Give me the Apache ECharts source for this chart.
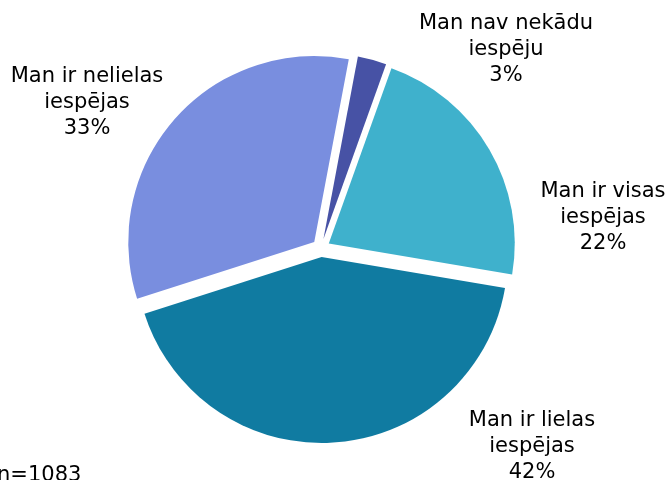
<!DOCTYPE html>
<html>
<head>
<meta charset="utf-8">
<script src="https://cdn.jsdelivr.net/npm/echarts@6/dist/echarts.min.js"></script>
<style>
  html, body { margin: 0; padding: 0; background: #fff; }
  #chart { width: 668px; height: 480px; }
</style>
</head>
<body>
<div id="chart"></div>
<script>
// slices, clockwise from the top
const categories = [
  'Man nav nekādu\niespēju',
  'Man ir visas\niespējas',
  'Man ir lielas\niespējas',
  'Man ir nelielas\niespējas',
];
const values = [2.5, 22.2, 42.4, 32.9];
const colors = ['#4752a5', '#3fb1cc', '#107ba1', '#798edf'];
const sampleNote = 'n=1083';

// where each label block is centred
const labelSpots = [[506, 50], [603, 218], [532, 447], [87, 103]];

const chart = echarts.init(document.getElementById('chart'));

const pieBase = {
  type: 'pie',
  center: [321, 248],
  radius: 186,
  startAngle: 79.3,
  clockwise: true,
  avoidLabelOverlap: false,
  emphasis: { disabled: true },
  labelLine: { show: false },
};

const option = {
  animation: false,
  graphic: [{
    type: 'text',
    left: -3,
    top: 465,
    style: {
      text: sampleNote,
      font: '21px "DejaVu Sans"',
      fill: '#000',
    },
  }],
  series: [
    {
      // exploded slices (selected state gives the offset)
      ...pieBase,
      selectedMode: 'multiple',
      selectedOffset: 9,
      label: { show: false },
      data: categories.map((name, i) => ({
        name,
        value: values[i],
        selected: true,
        itemStyle: { color: colors[i] },
      })),
    },
    {
      // invisible copy that only carries the labels
      ...pieBase,
      silent: true,
      selectedMode: false,
      itemStyle: { color: 'rgba(0,0,0,0)' },
      label: {
        show: true,
        position: 'outside',
        fontFamily: 'DejaVu Sans',
        fontSize: 21,
        lineHeight: 26,
        color: '#000',
        align: 'center',
        formatter: (p) => `${p.name}\n${Math.round(p.percent)}%`,
      },
      labelLayout: (params) => ({
        x: labelSpots[params.dataIndex][0],
        y: labelSpots[params.dataIndex][1],
        align: 'center',
        verticalAlign: 'middle',
      }),
      data: categories.map((name, i) => ({ name, value: values[i] })),
    },
  ],
};

chart.setOption(option);
</script>
</body>
</html>
